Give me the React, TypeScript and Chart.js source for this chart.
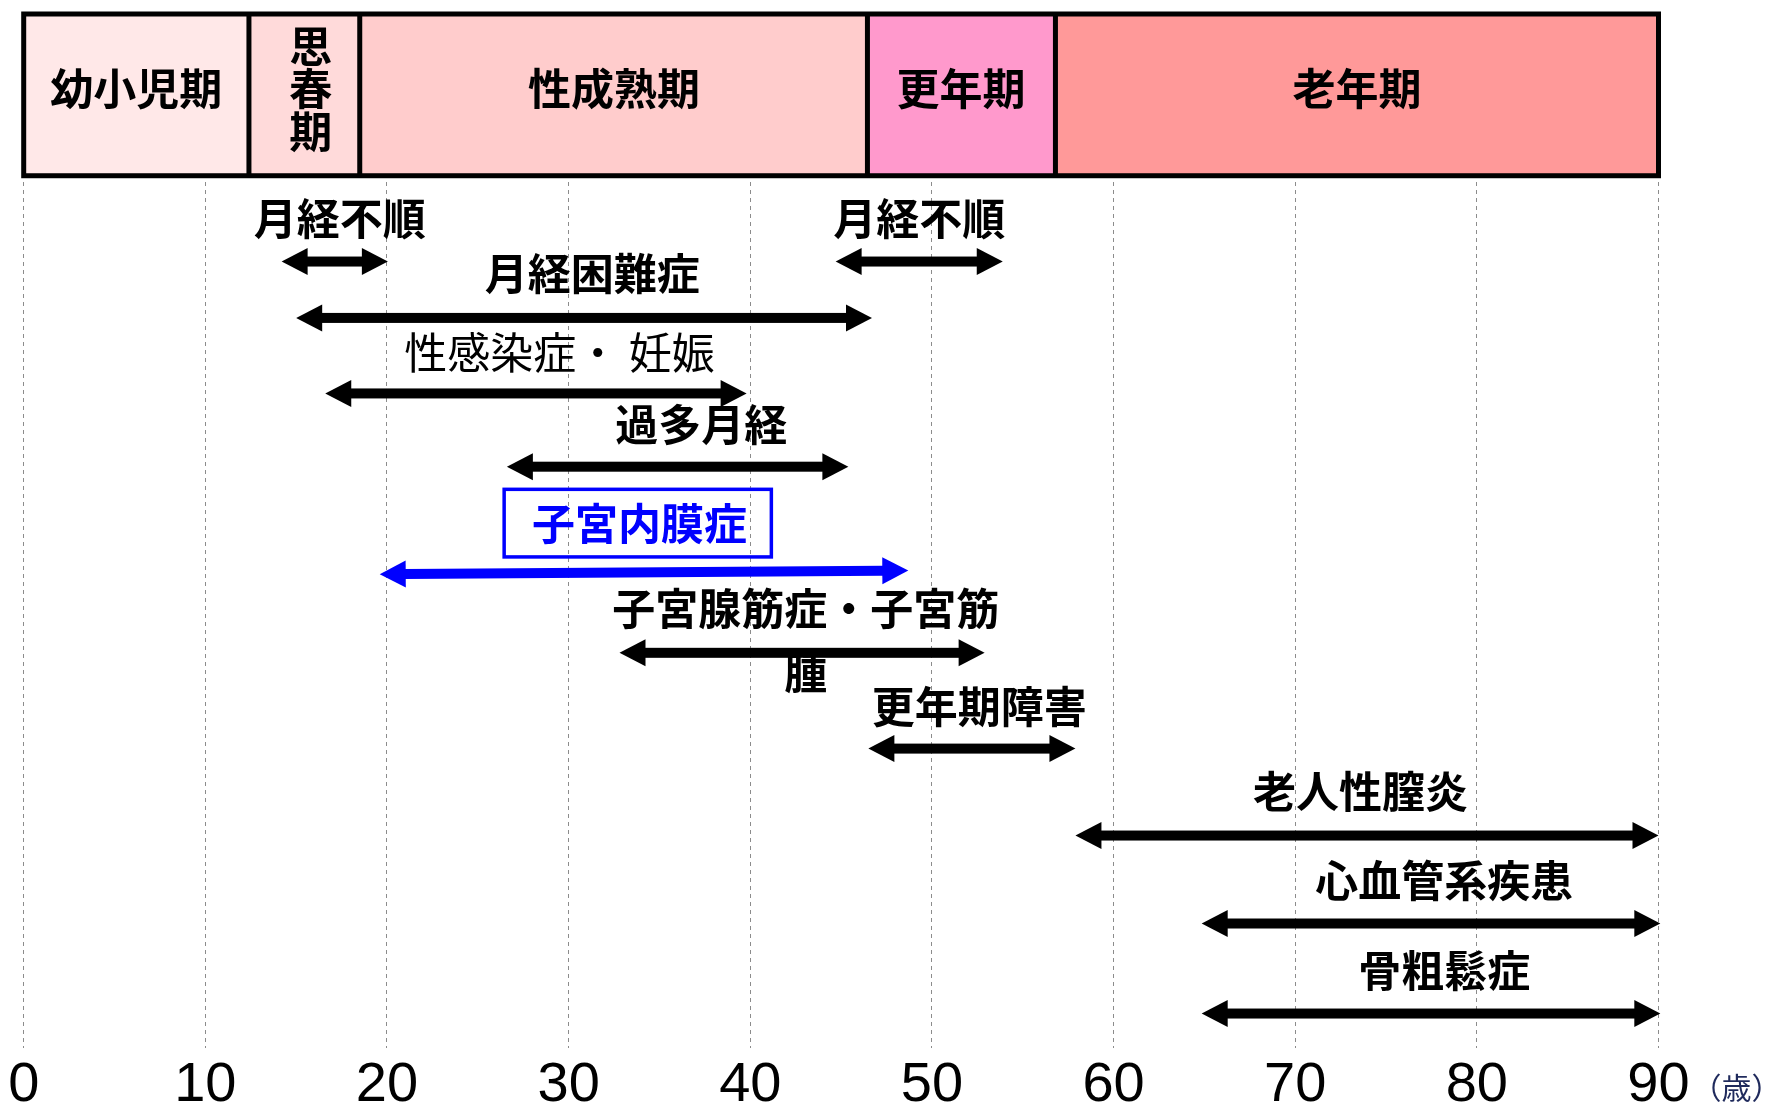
import React, { useEffect, useRef } from "react";
import { Chart, registerables } from "chart.js";

Chart.register(...registerables);

// ---- axis ----
const ageTicks = [0, 10, 20, 30, 40, 50, 60, 70, 80, 90];
const ageUnit = "（歳）";

// ---- life stages (header band) ----
const stageNames = [["幼小児期"], ["思", "春", "期"], ["性成熟期"], ["更年期"], ["老年期"]];
const stageFrom = [0, 12.4, 18.5, 46.45, 56.8];
const stageTo = [12.4, 18.5, 46.45, 56.8, 90];
const stageColors = ["#FFE8E8", "#FFDADA", "#FFCCCC", "#FF99CC", "#FF9999"];
const stageLabelAge = [6.2, 15.8, 32.5, 51.6, 73.4];
const stageBandRows = [0, 15.72];
const stageLabelRow = 7.3;

// ---- diseases (arrows) ----
const diseaseNames = [
  "月経不順",
  "月経不順",
  "月経困難症",
  "性感染症・ 妊娠",
  "過多月経",
  "子宮内膜症",
  "子宮腺筋症・子宮筋腫",
  "更年期障害",
  "老人性膣炎",
  "心血管系疾患",
  "骨粗鬆症",
];
const diseaseFrom = [14.2, 44.7, 15.0, 16.6, 26.6, 19.6, 32.8, 46.5, 57.9, 64.85, 64.85];
const diseaseTo = [20.05, 53.9, 46.7, 39.8, 45.4, 48.7, 52.9, 57.9, 90.0, 90.1, 90.1];
const diseaseRowFrom = [24.06, 24.06, 29.54, 36.88, 44.0, 54.45, 62.09, 71.4, 79.85, 88.4, 97.15];
const diseaseRowTo = [24.06, 24.06, 29.54, 36.88, 44.0, 54.1, 62.09, 71.4, 79.85, 88.4, 97.15];
const diseaseColors = ["#000000", "#000000", "#000000", "#000000", "#000000", "#0000FF", "#000000", "#000000", "#000000", "#000000", "#000000"];

// ---- disease labels ----
const labelLines = [
  ["月経不順"],
  ["月経不順"],
  ["月経困難症"],
  ["性感染症・ 妊娠"],
  ["過多月経"],
  ["子宮内膜症"],
  ["子宮腺筋症・子宮筋", "腫"],
  ["更年期障害"],
  ["老人性膣炎"],
  ["心血管系疾患"],
  ["骨粗鬆症"],
];
const labelAge = [17.4, 49.3, 31.3, 29.5, 37.3, 33.9, 43.05, 52.6, 73.6, 78.2, 78.2];
const labelRow = [19.9, 19.9, 25.27, 32.94, 39.94, 49.56, 57.82, 67.35, 75.57, 84.23, 93.0];
const labelBold = [true, true, true, false, true, true, true, true, true, true, true];
const boxedLabel = 5;
const boxedAges = [26.45, 41.16];
const boxedRows = [46.2, 52.77];

const CJK = '"Noto Sans CJK JP", "Noto Sans CJK SC", sans-serif';

function drawArrow(ctx: CanvasRenderingContext2D, x1: number, y1: number, x2: number, y2: number, color: string) {
  const headLen = 26;
  const headHalf = 13.5;
  const shaft = 10;
  const ang = Math.atan2(y2 - y1, x2 - x1);
  const len = Math.hypot(x2 - x1, y2 - y1);
  ctx.save();
  ctx.translate(x1, y1);
  ctx.rotate(ang);
  ctx.fillStyle = color;
  ctx.fillRect(headLen - 1, -shaft / 2, len - 2 * headLen + 2, shaft);
  ctx.beginPath();
  ctx.moveTo(0, 0);
  ctx.lineTo(headLen, -headHalf);
  ctx.lineTo(headLen, headHalf);
  ctx.closePath();
  ctx.fill();
  ctx.beginPath();
  ctx.moveTo(len, 0);
  ctx.lineTo(len - headLen, -headHalf);
  ctx.lineTo(len - headLen, headHalf);
  ctx.closePath();
  ctx.fill();
  ctx.restore();
}

const lifePlugin = {
  id: "lifePlugin",
  beforeDatasetsDraw(chart: any) {
    const { ctx } = chart;
    const xs = chart.scales.x;
    const ys = chart.scales.y;
    const top = ys.getPixelForValue(stageBandRows[0]);
    const bottom = ys.getPixelForValue(stageBandRows[1]);
    ctx.save();
    stageNames.forEach((_, i) => {
      const a = xs.getPixelForValue(stageFrom[i]);
      const b = xs.getPixelForValue(stageTo[i]);
      ctx.fillStyle = stageColors[i];
      ctx.fillRect(a, top, b - a, bottom - top);
    });
    ctx.lineWidth = 5;
    ctx.strokeStyle = "#000";
    const left = xs.getPixelForValue(stageFrom[0]);
    const right = xs.getPixelForValue(stageTo[stageTo.length - 1]);
    ctx.strokeRect(left, top, right - left, bottom - top);
    for (let i = 1; i < stageFrom.length; i++) {
      const p = xs.getPixelForValue(stageFrom[i]);
      ctx.beginPath();
      ctx.moveTo(p, top);
      ctx.lineTo(p, bottom);
      ctx.stroke();
    }
    ctx.fillStyle = "#000";
    ctx.font = `bold 43px ${CJK}`;
    ctx.textAlign = "center";
    ctx.textBaseline = "middle";
    const cy = ys.getPixelForValue(stageLabelRow);
    stageNames.forEach((lines, i) => {
      const cx = xs.getPixelForValue(stageLabelAge[i]);
      const pitch = 42.8;
      lines.forEach((t, k) => {
        ctx.fillText(t, cx, cy + (k - (lines.length - 1) / 2) * pitch);
      });
    });
    ctx.restore();
  },
  afterDatasetsDraw(chart: any) {
    const { ctx } = chart;
    const xs = chart.scales.x;
    const ys = chart.scales.y;
    ctx.save();
    diseaseNames.forEach((_, i) => {
      const pts = chart.getDatasetMeta(i).data;
      drawArrow(ctx, pts[0].x, pts[0].y, pts[1].x, pts[1].y, diseaseColors[i]);
    });
    ctx.textAlign = "center";
    ctx.textBaseline = "middle";
    labelLines.forEach((lines, i) => {
      ctx.font = `${labelBold[i] ? "bold " : ""}43px ${CJK}`;
      ctx.fillStyle = diseaseColors[i];
      const cx = xs.getPixelForValue(labelAge[i]);
      const cy = ys.getPixelForValue(labelRow[i]);
      lines.forEach((t, k) => ctx.fillText(t, cx, cy + k * 64));
    });
    const bx0 = xs.getPixelForValue(boxedAges[0]);
    const bx1 = xs.getPixelForValue(boxedAges[1]);
    const by0 = ys.getPixelForValue(boxedRows[0]);
    const by1 = ys.getPixelForValue(boxedRows[1]);
    ctx.strokeStyle = diseaseColors[boxedLabel];
    ctx.lineWidth = 3.5;
    ctx.strokeRect(bx0, by0, bx1 - bx0, by1 - by0);
    ctx.restore();
  },
  afterDraw(chart: any) {
    const { ctx } = chart;
    const xs = chart.scales.x;
    ctx.save();
    ctx.font = `30px ${CJK}`;
    ctx.fillStyle = "#1f2a5c";
    ctx.textAlign = "center";
    ctx.textBaseline = "middle";
    ctx.fillText(ageUnit, xs.getPixelForValue(ageTicks[ageTicks.length - 1]) + 78, xs.top + 40);
    ctx.restore();
  },
};

export default function App() {
  const ref = useRef<HTMLCanvasElement | null>(null);
  useEffect(() => {
    if (!ref.current) return;
    const datasets = diseaseNames.map((name, i) => ({
      type: "line" as const,
      label: name,
      data: [
        { x: diseaseFrom[i], y: diseaseRowFrom[i] },
        { x: diseaseTo[i], y: diseaseRowTo[i] },
      ],
      showLine: false,
      pointRadius: 0,
      borderColor: diseaseColors[i],
      backgroundColor: diseaseColors[i],
    }));
    const chart = new Chart(ref.current, {
      type: "line",
      data: { datasets },
      plugins: [lifePlugin],
      options: {
        animation: false,
        responsive: false,
        events: [],
        layout: { padding: { top: 14, left: 23.7, right: 109.5, bottom: 0 } },
        plugins: { legend: { display: false }, tooltip: { enabled: false } },
        scales: {
          x: {
            type: "linear",
            min: ageTicks[0],
            max: ageTicks[ageTicks.length - 1],
            afterBuildTicks: (scale: any) => {
              scale.ticks = ageTicks.map((v) => ({ value: v }));
            },
            afterFit: (scale: any) => {
              scale.height = 59;
            },
            grid: { color: "#8c8c8c", lineWidth: 1, drawTicks: false },
            border: { display: false, dash: [4, 4] },
            ticks: {
              color: "#000",
              padding: 4,
              font: { family: '"Liberation Sans", Arial, sans-serif', size: 56 },
            },
          },
          y: {
            type: "linear",
            display: false,
            reverse: true,
            min: 0,
            max: 100.5,
          },
        },
      },
    } as any);
    return () => chart.destroy();
  }, []);
  return (
    <div style={{ position: "fixed", left: 0, top: 0, width: 1768, height: 1107, background: "#fff" }}>
      <canvas ref={ref} width={1768} height={1107} style={{ display: "block" }} />
    </div>
  );
}
